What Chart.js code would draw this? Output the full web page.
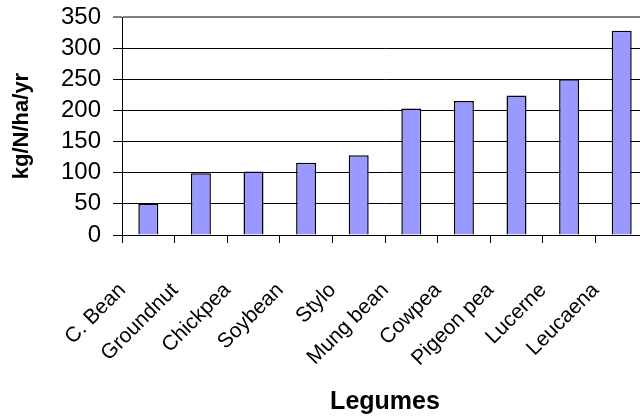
<!DOCTYPE html>
<html>
<head>
<meta charset="utf-8">
<title>Legume N fixation</title>
<script src="https://cdn.jsdelivr.net/npm/chart.js@4.4.1/dist/chart.umd.min.js"></script>
<style>
  body { margin: 0; overflow: hidden; background: #fff; }
  #wrap { width: 650px; height: 418px; }
</style>
</head>
<body>
<div id="wrap"><canvas id="legumeChart" width="650" height="418"></canvas></div>
<script>
  // data
  var legumes = ["C. Bean", "Groundnut", "Chickpea", "Soybean", "Stylo",
                 "Mung bean", "Cowpea", "Pigeon pea", "Lucerne", "Leucaena"];
  var fixedN = [50, 99, 102, 116, 128, 203, 215, 224, 250, 328];
  var yMin = 0;
  var yMax = 350;
  var yStep = 50;

  var font = "'Liberation Sans', Arial, sans-serif";

  var ctx = document.getElementById("legumeChart").getContext('2d');

  var legumeChart = new Chart(ctx, {
    type: 'bar',
    data: {
      labels: legumes,
      datasets: [{
        data: fixedN,
        backgroundColor: "#9999FF",
        borderColor: "#000000",
        borderWidth: 1.5,
        categoryPercentage: 1,
        barPercentage: 0.38
      }]
    },
    options: {
      responsive: false,
      animation: false,
      layout: { padding: { top: 17, left: 0, right: 2, bottom: 0 } },
      plugins: {
        legend: { display: false },
        tooltip: { enabled: false }
      },
      scales: {
        x: {
          afterFit: function(scale) {
            scale.height = 183;
            // no extra side padding for the rotated labels
            scale.paddingLeft = 0;
            scale.paddingRight = 0;
          },
          grid: { offset: true, drawOnChartArea: false, color: "#000", tickLength: 8 },
          border: { color: "#000", width: 1 },
          ticks: {
            color: "#000",
            font: { family: font, size: 21 },
            minRotation: 45,
            maxRotation: 45,
            autoSkip: false,
            padding: 35,
            labelOffset: -26
          },
          title: {
            display: true,
            text: "Legumes",
            color: "#000",
            font: { family: font, size: 25, weight: 'bold' },
            padding: { top: 0, bottom: 1 }
          }
        },
        y: {
          min: yMin,
          max: yMax,
          afterFit: function(scale) {
            scale.width = 122;
            scale.paddingTop = 0;
            scale.paddingBottom = 0;
          },
          grid: {
            color: function(c) { return c.tick && c.tick.value === yMax ? "#808080" : "#000"; },
            lineWidth: function(c) { return c.tick && c.tick.value === yMax ? 2 : 1; },
            tickLength: 9
          },
          border: { color: "#000", width: 1 },
          ticks: {
            stepSize: yStep,
            autoSkip: false,
            color: "#000",
            font: { family: font, size: 24 },
            padding: 12
          },
          title: {
            display: true,
            text: "kg/N/ha/yr",
            color: "#000",
            font: { family: font, size: 22, weight: 'bold' },
            padding: { top: 9, bottom: 0 }
          }
        }
      }
    }
  });
</script>
</body>
</html>
